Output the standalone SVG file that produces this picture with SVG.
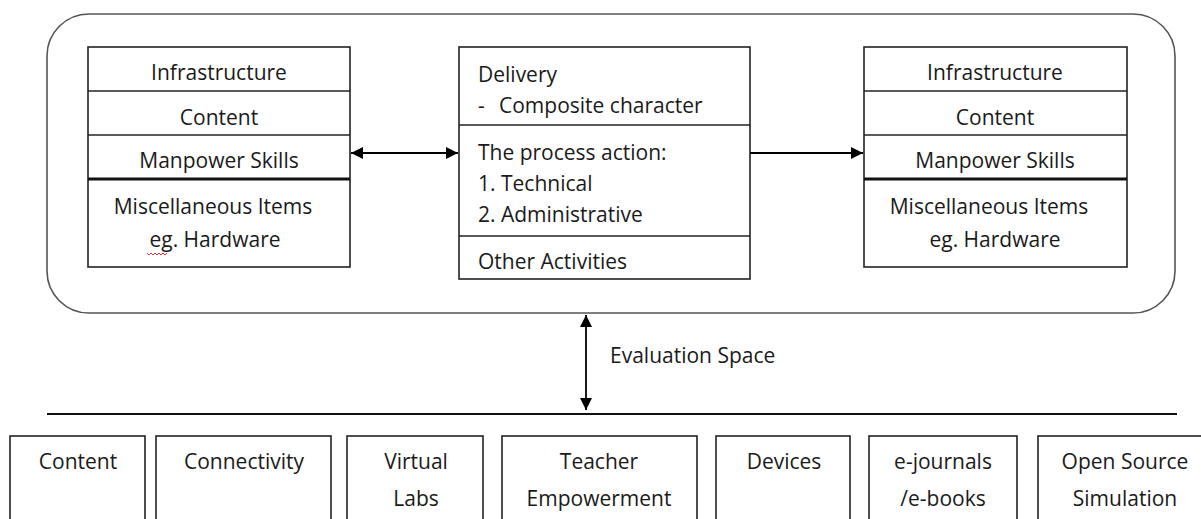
<svg xmlns="http://www.w3.org/2000/svg" width="1201" height="519" viewBox="0 0 1201 519">
<defs>
<marker id="ah" viewBox="0 0 10 10" refX="10" refY="5" markerWidth="12" markerHeight="12" markerUnits="userSpaceOnUse" orient="auto-start-reverse">
<path d="M0,0 L10,5 L0,10 z" fill="#000"/>
</marker>
<style>
text{font-family:"Open Sans","Noto Sans",sans-serif;font-size:21px;fill:#1a1a1a}
.c{text-anchor:middle}
.box{fill:#fff;stroke:#222;stroke-width:1.6}
.sep{stroke:#222;stroke-width:1.6}
.thick{stroke:#111;stroke-width:2.8}
.conn{stroke:#000;stroke-width:1.8;fill:none}
</style>
</defs>
<rect width="1201" height="519" fill="#fff"/>
<g id="container">
<rect x="47" y="14" width="1128" height="299" rx="42" ry="42" fill="none" stroke="#555" stroke-width="1.6"/>
</g>
<g id="left-stack">
<rect class="box" x="88" y="47" width="262" height="220"/>
<line class="sep" x1="88" y1="91" x2="350" y2="91"/>
<line class="sep" x1="88" y1="135" x2="350" y2="135"/>
<text class="c" x="219" y="80">Infrastructure</text>
<text class="c" x="219" y="125">Content</text>
<text class="c" x="219" y="168">Manpower Skills</text>
<line class="thick" x1="88" y1="179" x2="350" y2="179"/>
<text class="c" x="213" y="214">Miscellaneous Items</text>
<text class="c" x="215" y="247">eg. Hardware</text>
<path d="M147,253 l2,2 l2,-2 l2,2 l2,-2 l2,2 l2,-2 l2,2 l2,-2 l2,2 l2,-2" fill="none" stroke="#c00" stroke-width="0.8"/>
</g>
<g id="middle-stack">
<rect class="box" x="459" y="47" width="291" height="232"/>
<line class="sep" x1="459" y1="125" x2="750" y2="125"/>
<line class="sep" x1="459" y1="236" x2="750" y2="236"/>
<text x="478" y="82">Delivery</text>
<text x="478" y="113">-</text>
<text x="499" y="113">Composite character</text>
<text x="478" y="160">The process action:</text>
<text x="478" y="191">1. Technical</text>
<text x="478" y="222">2. Administrative</text>
<text x="478" y="269">Other Activities</text>
</g>
<g id="right-stack">
<rect class="box" x="864" y="47" width="263" height="220"/>
<line class="sep" x1="864" y1="91" x2="1127" y2="91"/>
<line class="sep" x1="864" y1="135" x2="1127" y2="135"/>
<text class="c" x="995" y="80">Infrastructure</text>
<text class="c" x="995" y="125">Content</text>
<text class="c" x="995" y="168">Manpower Skills</text>
<line class="thick" x1="864" y1="179" x2="1127" y2="179"/>
<text class="c" x="989" y="214">Miscellaneous Items</text>
<text class="c" x="995" y="247">eg. Hardware</text>
</g>
<g id="connectors">
<line class="conn" x1="351" y1="153" x2="458" y2="153" marker-start="url(#ah)" marker-end="url(#ah)"/>
<line class="conn" x1="750" y1="153" x2="863" y2="153" marker-end="url(#ah)"/>
<line class="conn" x1="586" y1="315" x2="586" y2="410" marker-start="url(#ah)" marker-end="url(#ah)"/>
<line x1="47" y1="414" x2="1177" y2="414" stroke="#111" stroke-width="1.8"/>
</g>
<g id="evaluation-label">
<text x="610" y="363">Evaluation Space</text>
</g>
<g id="b-content">
<rect class="box" x="10" y="436" width="135" height="100"/>
<text class="c" x="78" y="469">Content</text>
</g>
<g id="b-connectivity">
<rect class="box" x="156" y="436" width="175" height="100"/>
<text class="c" x="244" y="469">Connectivity</text>
</g>
<g id="b-virtual-labs">
<rect class="box" x="347" y="436" width="136" height="100"/>
<text class="c" x="416" y="469">Virtual</text>
<text class="c" x="416" y="506">Labs</text>
</g>
<g id="b-teacher">
<rect class="box" x="502" y="436" width="195" height="100"/>
<text class="c" x="599" y="469">Teacher</text>
<text class="c" x="599" y="506">Empowerment</text>
</g>
<g id="b-devices">
<rect class="box" x="716" y="436" width="134" height="100"/>
<text class="c" x="784" y="469">Devices</text>
</g>
<g id="b-ejournals">
<rect class="box" x="869" y="436" width="148" height="100"/>
<text class="c" x="943" y="469">e-journals</text>
<text class="c" x="943" y="506">/e-books</text>
</g>
<g id="b-opensource">
<rect class="box" x="1038" y="436" width="180" height="100"/>
<text class="c" x="1125" y="469">Open Source</text>
<text class="c" x="1125" y="506">Simulation</text>
</g>
</svg>
